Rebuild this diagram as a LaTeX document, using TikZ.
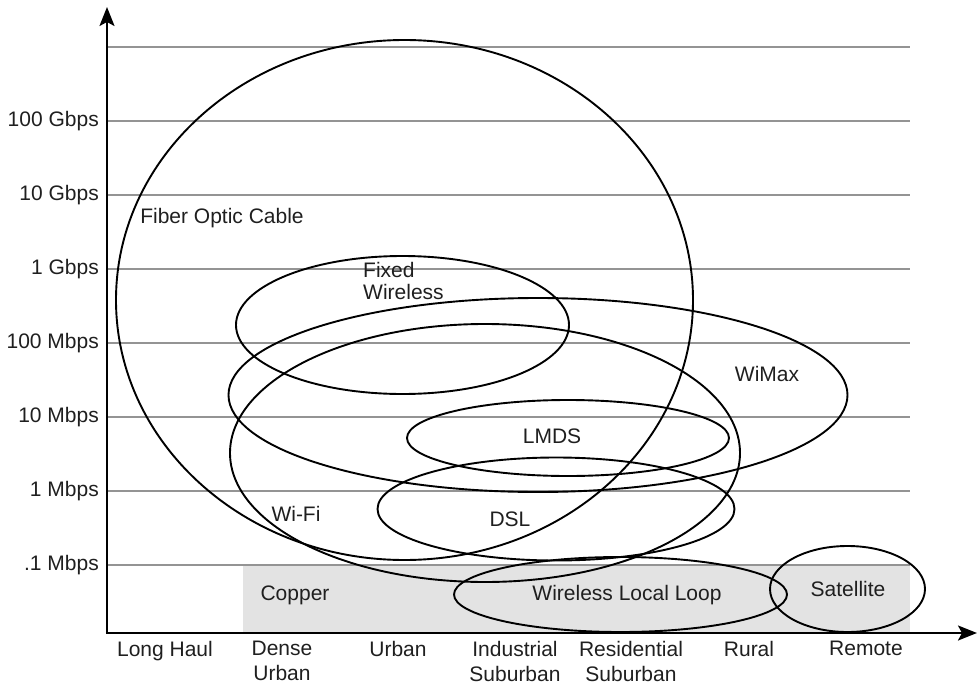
\documentclass[tikz,border=0pt]{standalone}
\usepackage{fontspec}
\setmainfont{Liberation Sans}
\usetikzlibrary{arrows.meta}

\tikzset{
  lbl/.style={inner sep=0pt, text=black!88, font=\fontsize{21}{25}\selectfont},
  ylbl/.style={lbl, anchor=east},
  xlbl/.style={lbl, align=center, anchor=north},
  grid line/.style={draw=black!42, line width=1.4pt},
  axis/.style={line width=2.3pt, -{Stealth[length=19pt,width=15pt,inset=4pt]}},
  region/.style={line width=1.9pt},
}

\begin{document}
\begin{tikzpicture}[x=1pt, y=-1pt]
\useasboundingbox (0,0) rectangle (978,688);

% shaded band for copper plant
\fill[black!11] (243,565) rectangle (910,633);

% horizontal grid
\foreach \yy in {47,121,195,269,343,417,491,565}
  \draw[grid line] (107,\yy) -- (910,\yy);

% axis labels
\node[ylbl] (g100) at (99,121) {100 Gbps};
\node[ylbl] (g10)  at (99,195) {10 Gbps};
\node[ylbl] (g1)   at (99,269) {1 Gbps};
\node[ylbl] (m100) at (99,343) {100 Mbps};
\node[ylbl] (m10)  at (99,417) {10 Mbps};
\node[ylbl] (m1)   at (99,491) {1 Mbps};
\node[ylbl] (m01)  at (99,565) {.1 Mbps};

\node[xlbl] (longhaul) at (165,641) {Long Haul};
\node[xlbl] (dense)    at (282,641) {Dense\\Urban};
\node[xlbl] (urban)    at (398,641) {Urban};
\node[xlbl] (indus)    at (515,641) {Industrial\\Suburban};
\node[xlbl] (resid)    at (631,641) {Residential\\Suburban};
\node[xlbl] (rural)    at (749,641) {Rural};
\node[xlbl] (remote)   at (866,641) {Remote};

% coverage regions
\draw[region] (404.5,300) ellipse [x radius=288.5pt, y radius=260pt];
\draw[region] (402.5,325) ellipse [x radius=166.5pt, y radius=69pt];
\draw[region] (538,395) ellipse [x radius=309.5pt, y radius=97pt];
\draw[region] (485,453) ellipse [x radius=255pt, y radius=129pt];
\draw[region] (568,438) ellipse [x radius=161pt, y radius=38pt];
\draw[region] (556,509) ellipse [x radius=178.5pt, y radius=51.5pt];
\draw[region] (620.5,594.5) ellipse [x radius=166.5pt, y radius=37.5pt];
\draw[region] (847.5,589) ellipse [x radius=77.5pt, y radius=43pt];

% region names
\node[lbl] (fiber) at (222,218) {Fiber Optic Cable};
\node[lbl, align=left, anchor=north west, font=\fontsize{21}{22}\selectfont] (fixed) at (363,262) {Fixed\\Wireless};
\node[lbl] (wimax) at (767,374) {WiMax};
\node[lbl] (lmds) at (552,436) {LMDS};
\node[lbl] (wifi) at (296,514) {Wi-Fi};
\node[lbl] (dsl) at (510,519) {DSL};
\node[lbl] (copper) at (295,595) {Copper};
\node[lbl] (wll) at (627,595) {Wireless Local Loop};
\node[lbl] (sat) at (848,589) {Satellite};

% axes
\coordinate (origin) at (107,633);
\coordinate (ytip) at (107,7);
\coordinate (xtip) at (977,633);
\draw[axis] (origin) -- (ytip);
\draw[axis] ([xshift=-1.2pt]origin) -- (xtip);
\end{tikzpicture}
\end{document}
